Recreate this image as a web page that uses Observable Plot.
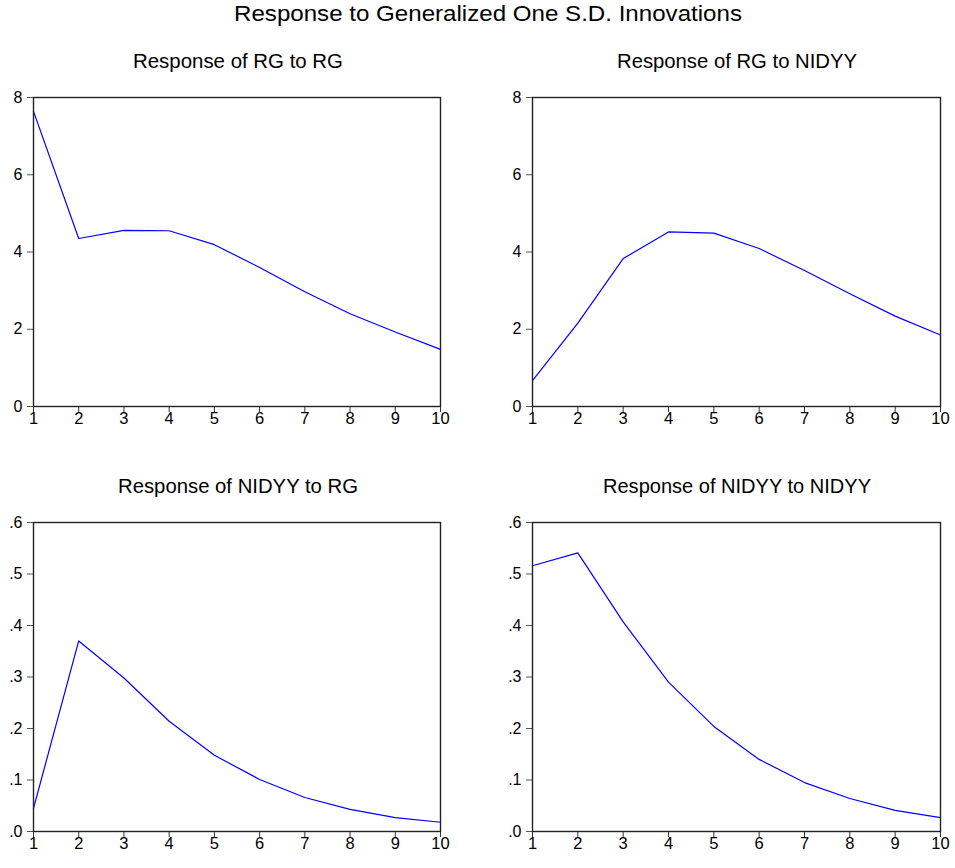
<!DOCTYPE html>
<html><head><meta charset="utf-8">
<script src="https://cdn.jsdelivr.net/npm/d3@7"></script>
<script src="https://cdn.jsdelivr.net/npm/@observablehq/plot@0.6"></script>
<style>
body{margin:0;background:#fff;font-family:"Liberation Sans",Arial,sans-serif;}
#wrap{position:relative;width:955px;height:868px;overflow:hidden;}
.t{position:absolute;white-space:nowrap;color:#000;line-height:1;transform-origin:0 0;}
.p{position:absolute;}
svg.p g[aria-label="y-axis tick label"], svg.p g[aria-label="y-axis tick label"] text{font-size:16px !important;}
svg.p g[aria-label="x-axis tick label"], svg.p g[aria-label="x-axis tick label"] text{font-size:16.5px !important;}
</style></head>
<body><div id="wrap"></div>
<script>
const periods = [1,2,3,4,5,6,7,8,9,10];
const rgToRg = [7.64,4.35,4.56,4.55,4.19,3.60,2.97,2.40,1.93,1.48];
const rgToNidyy = [0.67,2.16,3.83,4.52,4.49,4.09,3.52,2.92,2.34,1.85];
const nidyyToRg = [0.045,0.370,0.298,0.214,0.148,0.101,0.066,0.043,0.027,0.018];
const nidyyToNidyy = [0.516,0.541,0.407,0.290,0.204,0.140,0.095,0.064,0.041,0.027];
const mainTitle = "Response to Generalized One S.D. Innovations";
const panelTitles = ["Response of RG to RG","Response of RG to NIDYY","Response of NIDYY to RG","Response of NIDYY to NIDYY"];
const topTicks = [0,2,4,6,8];
const botTicks = [0,0.1,0.2,0.3,0.4,0.5,0.6];

const wrap = document.getElementById("wrap");
function addText(txt, x0, w, top, size){
  const d = document.createElement("div");
  d.className = "t"; d.textContent = txt;
  d.style.top = top+"px"; d.style.fontSize = size+"px";
  wrap.appendChild(d);
  const nat = d.getBoundingClientRect().width;
  d.style.left = x0+"px";
  d.style.transform = `scaleX(${w / nat})`;
}
addText(mainTitle, 234, 508, 4, 21.5);

const fmtTop = d=>String(d);
const fmtBot = d=>d3.format(".1f")(d).replace(/^0/,"");
const panels = [
  {vals: rgToRg, left: 0, top: 80, ml: 33, dom:[0,8], ticks: topTicks, fmt: fmtTop, title: panelTitles[0], tx0: 133, tw: 210, ty: 52},
  {vals: rgToNidyy, left: 500, top: 80, ml: 32, dom:[0,8], ticks: topTicks, fmt: fmtTop, title: panelTitles[1], tx0: 617, tw: 240, ty: 52},
  {vals: nidyyToRg, left: 0, top: 505, ml: 33, dom:[0,0.6], ticks: botTicks, fmt: fmtBot, title: panelTitles[2], tx0: 118, tw: 240, ty: 477},
  {vals: nidyyToNidyy, left: 500, top: 505, ml: 32, dom:[0,0.6], ticks: botTicks, fmt: fmtBot, title: panelTitles[3], tx0: 603, tw: 268, ty: 477},
];

for (const p of panels){
  addText(p.title, p.tx0, p.tw, p.ty, 19.5);
  const data = periods.map((x,i)=>({x, y: p.vals[i]}));
  const chart = Plot.plot({
    width: 460, height: 361,
    marginLeft: p.ml, marginRight: 20, marginTop: 17, marginBottom: 35,
    style: {fontFamily: '"Liberation Sans", Arial, sans-serif', color: "#000", background: "#fff", overflow: "visible"},
    x: {domain: [1,10]},
    y: {domain: p.dom},
    marks: [
      Plot.axisX({ticks: periods, tickFormat: d=>String(d), tickSize: 6, tickPadding: 0, label: null, stroke: "#333", fontSize: 16.5}),
      Plot.axisY({ticks: p.ticks, tickFormat: p.fmt, tickSize: 6, tickPadding: 5, label: null, stroke: "#555", fontSize: 16}),
      Plot.line(data, {x: "x", y: "y", stroke: "#0000ff", strokeWidth: 1.2}),
      Plot.frame({stroke: "#222", strokeWidth: 1.4})
    ]
  });
  chart.classList.add("p");
  chart.style.left = p.left+"px"; chart.style.top = p.top+"px";
  wrap.appendChild(chart);
}
</script></body></html>
